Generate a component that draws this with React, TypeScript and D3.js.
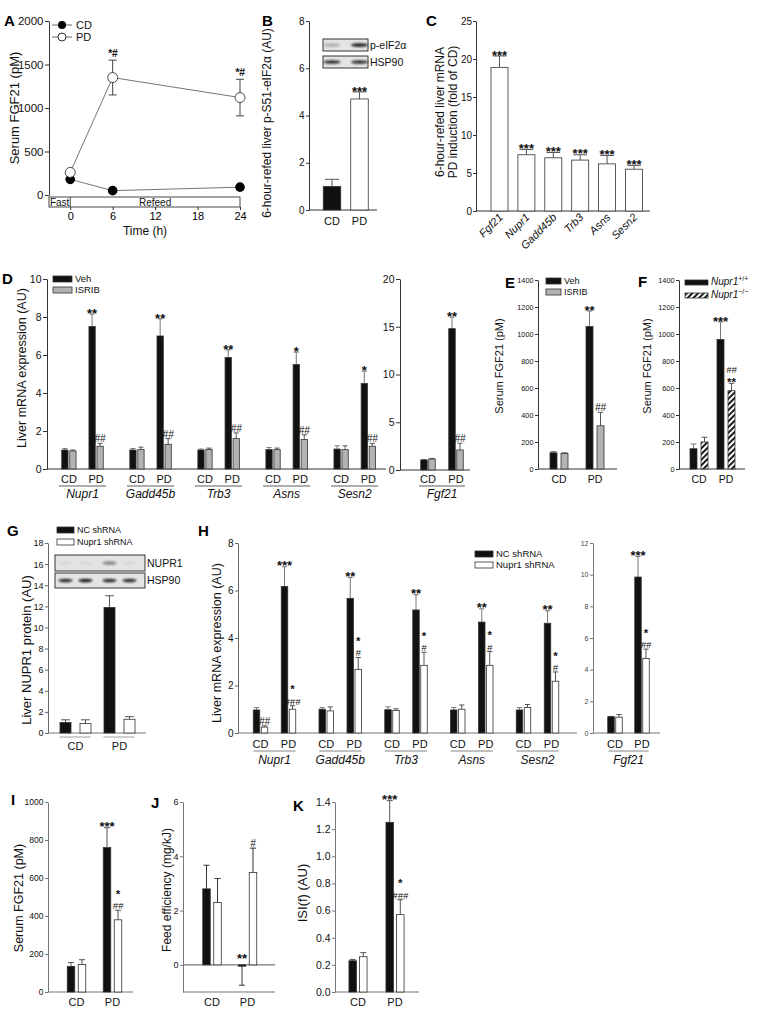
import React, { useEffect, useRef } from 'react';
import * as d3 from 'd3';

const FONT = '"Liberation Sans", Arial, Helvetica, sans-serif';
const W = 765;
const H = 1017;

// A: serum FGF21 time course
const aTime = [0, 6, 24];
const aCD = [180, 50, 90];
const aCDErr = [20, 8, 10];
const aPD = [260, 1350, 1120];
const aPDErr = [15, 200, 210];
const aSig = ['', '*#', '*#'];
const aTicksX = [0, 6, 12, 18, 24];
const aTicksY = [0, 500, 1000, 1500, 2000];

// B: p-eIF2a
const bConds = ['CD', 'PD'];
const bVals = [1.0, 4.7];
const bErr = [0.3, 0.3];
const bSig = ['', '***'];
const bBlotP = [0.25, 0.95];
const bBlotH = [0.85, 0.85];

// C: fold induction
const cGenes = ['Fgf21', 'Nupr1', 'Gadd45b', 'Trb3', 'Asns', 'Sesn2'];
const cVals = [18.9, 7.4, 7.0, 6.7, 6.2, 5.5];
const cErr = [1.5, 0.7, 0.7, 0.7, 1.1, 0.5];

// D: ISRIB
const dGenes = ['Nupr1', 'Gadd45b', 'Trb3', 'Asns', 'Sesn2'];
const dVehCD = [1.0, 1.0, 1.0, 1.02, 1.05];
const dVehCDErr = [0.08, 0.08, 0.05, 0.11, 0.17];
const dIsrCD = [0.95, 1.02, 1.03, 1.02, 1.02];
const dIsrCDErr = [0.05, 0.13, 0.07, 0.08, 0.2];
const dVehPD = [7.5, 7.0, 5.87, 5.5, 4.5];
const dVehPDErr = [0.65, 0.9, 0.4, 0.65, 0.65];
const dIsrPD = [1.2, 1.3, 1.6, 1.55, 1.2];
const dIsrPDErr = [0.15, 0.3, 0.3, 0.25, 0.15];
const dVehSig = ['**', '**', '**', '*', '*'];
const dIsrSig = ['##', '##', '##', '##', '##'];
const dfVeh = [1.05, 14.8];
const dfVehErr = [0.05, 1.2];
const dfIsr = [1.15, 2.1];
const dfIsrErr = [0.06, 0.7];
const dfVehSig = ['', '**'];
const dfIsrSig = ['', '##'];

// E: serum FGF21 with ISRIB
const eVeh = [120, 1055];
const eVehErr = [10, 115];
const eIsr = [115, 320];
const eIsrErr = [5, 100];
const eVehSig = ['', '**'];
const eIsrSig = ['', '##'];

// F: Nupr1 KO
const fWT = [150, 960];
const fWTErr = [35, 130];
const fKO = [200, 580];
const fKOErr = [35, 55];
const fWTSig = ['', '***'];
const fKOSig = ['', '##|**'];

// G: NUPR1 protein
const gNC = [1.0, 11.9];
const gNCErr = [0.25, 1.1];
const gSh = [0.9, 1.3];
const gShErr = [0.35, 0.25];
const gBlotN = [0.05, 0.05, 0.45, 0.05];
const gBlotH = [0.85, 0.95, 0.85, 0.85];

// H: shRNA mRNA
const hGenes = ['Nupr1', 'Gadd45b', 'Trb3', 'Asns', 'Sesn2'];
const hNCCD = [0.97, 1.0, 0.98, 0.97, 0.97];
const hNCCDErr = [0.1, 0.07, 0.12, 0.1, 0.1];
const hShCD = [0.25, 0.93, 0.95, 1.0, 1.07];
const hShCDErr = [0.05, 0.17, 0.07, 0.18, 0.13];
const hNCPD = [6.17, 5.67, 5.18, 4.67, 4.62];
const hNCPDErr = [0.83, 0.88, 0.64, 0.56, 0.53];
const hShPD = [1.0, 2.68, 2.85, 2.85, 2.18];
const hShPDErr = [0.15, 0.5, 0.55, 0.58, 0.39];
const hShCDSig = ['##', '', '', '', ''];
const hNCPDSig = ['***', '**', '**', '**', '**'];
const hShPDSig = ['*|###', '*|#', '*|#', '*|#', '*|#'];
const hfNC = [1.03, 9.85];
const hfNCErr = [0.02, 1.3];
const hfSh = [1.0, 4.7];
const hfShErr = [0.17, 0.6];
const hfNCSig = ['', '***'];
const hfShSig = ['', '*|##'];

// I, J, K
const iNC = [135, 760];
const iNCErr = [20, 105];
const iSh = [145, 380];
const iShErr = [25, 50];
const iNCSig = ['', '***'];
const iShSig = ['', '*|##'];
const jNC = [2.8, -0.05];
const jNCErr = [0.87, 0.7];
const jSh = [2.3, 3.4];
const jShErr = [0.88, 0.9];
const jNCSig = ['', '**'];
const jShSig = ['', '#'];
const kNC = [0.23, 1.25];
const kNCErr = [0.01, 0.16];
const kSh = [0.26, 0.57];
const kShErr = [0.03, 0.11];
const kNCSig = ['', '***'];
const kShSig = ['', '*|###'];

const conds = ['CD', 'PD'];
const BLACK = '#111';
const GRAY = '#b3b3b3';
const WHITE = '#fff';
const fmtInt = d3.format('d');

function YAxis({ scale, x, ticks, size, fmt = fmtInt, color = '#333', textColor = '#111', tick = 4, pad = 1.5 }: any) {
  const ref = useRef<SVGGElement>(null);
  useEffect(() => {
    const ax = d3.axisLeft(scale).tickValues(ticks).tickSizeInner(tick).tickSizeOuter(0).tickPadding(pad).tickFormat(fmt);
    const g = d3.select(ref.current as SVGGElement);
    g.call(ax as any);
    g.attr('font-family', FONT).attr('font-size', size);
    g.selectAll('.domain, .tick line').attr('stroke', color);
    g.selectAll('.tick text').attr('fill', textColor);
  });
  return <g ref={ref} transform={`translate(${x},0)`} />;
}

// significance marks: lines listed top first, separated by '|'
function sigLines(sig: string, top: number) {
  const lines = sig ? sig.split('|') : [];
  const stacked = lines.length > 1;
  const out: any[] = [];
  let boxTop: number | null = null;
  for (let i = lines.length - 1; i >= 0; i--) {
    const t = lines[i];
    const star = t.includes('*');
    const fs = star ? (stacked ? 11.5 : 13) : stacked ? 9.5 : 10;
    let base: number;
    if (boxTop === null) base = star ? top - 4 + 0.59 * fs : top - 1;
    else base = boxTop - 0.212 * fs - 0.3;
    boxTop = base - 0.905 * fs;
    out.unshift({ t, y: base, fs, star });
  }
  return out;
}

function Bar({ cx, w, y, v, e, fill, sig = '', stroke = '#333', err = '#555' }: any) {
  const y0 = y(0);
  const yv = y(v);
  const ye = y(v >= 0 ? v + e : v - e);
  const top = v >= 0 ? Math.min(ye, yv) : y0 - 6;
  const cap = Math.max(2.5, w * 0.4);
  const out = sigLines(sig, top);
  return (
    <g>
      <line x1={cx} x2={cx} y1={yv} y2={ye} stroke={err} strokeWidth={1} />
      <line x1={cx - cap} x2={cx + cap} y1={ye} y2={ye} stroke={err} strokeWidth={1} />
      <rect x={cx - w / 2} y={Math.min(y0, yv)} width={w} height={Math.abs(y0 - yv)} fill={fill} stroke={stroke} strokeWidth={0.8} />
      {out.map((o, i) => (
        <text key={i} x={cx} y={o.y} textAnchor="middle" fontFamily={FONT} fill="#111" fontSize={o.fs}
          fontWeight={o.star ? 'bold' : 'normal'} fontStyle={o.star ? 'normal' : 'italic'}>
          {o.t}
        </text>
      ))}
    </g>
  );
}

const Letter = ({ x, y, t }: any) => (
  <text x={x} y={y} fontFamily={FONT} fontSize={15} fontWeight="bold" fill="#000">{t}</text>
);

const YTitle = ({ x, y, t, size = 12.5 }: any) => (
  <text transform={`translate(${x},${y}) rotate(-90)`} dy="0.35em" textAnchor="middle" fontFamily={FONT} fontSize={size} fill="#111">{t}</text>
);

const Label = ({ x, y, t, size = 11, italic = false, anchor = 'middle' }: any) => (
  <text x={x} y={y} textAnchor={anchor} fontFamily={FONT} fontSize={size} fontStyle={italic ? 'italic' : 'normal'} fill="#111">{t}</text>
);

const HLine = ({ x1, x2, y, color = '#333', sw = 1 }: any) => (
  <line x1={x1} x2={x2} y1={y} y2={y} stroke={color} strokeWidth={sw} />
);

const LegendBox = ({ x, y, w = 19, h = 6, fill, t, size = 9.5, children }: any) => (
  <g>
    <rect x={x} y={y} width={w} height={h} fill={fill} stroke="#333" strokeWidth={0.8} />
    <text x={x + w + 3} y={y + h} fontFamily={FONT} fontSize={size} fill="#111">{children || t}</text>
  </g>
);

function PanelA() {
  const x = d3.scaleLinear().domain([-3, 24]).range([49, 240]);
  const y = d3.scaleLinear().domain([0, 2000]).range([195, 21]);
  const line = d3.line<number>().x((_, i) => x(aTime[i])).y((d) => y(d));
  const xRef = useRef<SVGGElement>(null);
  useEffect(() => {
    const g = d3.select(xRef.current as SVGGElement);
    g.call(d3.axisBottom(x).tickValues(aTicksX).tickSizeInner(3).tickSizeOuter(0).tickPadding(2) as any);
    g.select('.domain').remove();
    g.attr('font-family', FONT).attr('font-size', 11);
    g.selectAll('.tick line').attr('stroke', '#333');
  });
  return (
    <g>
      <Letter x={4} y={26} t="A" />
      <YAxis scale={y} x={49} ticks={aTicksY} size={11.5} />
      <YTitle x={14} y={108} t="Serum FGF21 (pM)" size={13} />
      <rect x={x(-3)} y={197} width={x(24) - x(-3)} height={10} fill="none" stroke="#333" strokeWidth={0.9} />
      <line x1={x(0)} x2={x(0)} y1={197} y2={207} stroke="#333" strokeWidth={0.9} />
      <Label x={(x(-3) + x(0)) / 2} y={205.5} t="Fast" size={10} />
      <Label x={(x(0) + x(24)) / 2} y={205.5} t="Refeed" size={10} />
      <g ref={xRef} transform="translate(0,207)" />
      <Label x={145} y={235} t="Time (h)" size={12} />
      <path d={line(aCD) || ''} fill="none" stroke="#666" strokeWidth={0.9} />
      <path d={line(aPD) || ''} fill="none" stroke="#666" strokeWidth={0.9} />
      {aTime.map((t, i) => (
        <g key={i}>
          {[[aCD[i], aCDErr[i]], [aPD[i], aPDErr[i]]].map(([v, e], j) => (
            <g key={j}>
              <line x1={x(t)} x2={x(t)} y1={y(v - e)} y2={y(v + e)} stroke="#444" />
              <line x1={x(t) - 4} x2={x(t) + 4} y1={y(v + e)} y2={y(v + e)} stroke="#444" />
              <line x1={x(t) - 4} x2={x(t) + 4} y1={y(v - e)} y2={y(v - e)} stroke="#444" />
            </g>
          ))}
          <circle cx={x(t)} cy={y(aCD[i])} r={4.8} fill="#000" />
          <circle cx={x(t)} cy={y(aPD[i])} r={5} fill="#fff" stroke="#333" strokeWidth={0.9} />
          {aSig[i] && <text x={x(t)} y={y(aPD[i] + aPDErr[i]) - 3} textAnchor="middle" fontFamily={FONT} fontSize={10.5} fontStyle="italic" fontWeight="bold" fill="#111">{aSig[i]}</text>}
        </g>
      ))}
      <line x1={52} x2={72} y1={25} y2={25} stroke="#666" />
      <circle cx={62} cy={25} r={4} fill="#000" />
      <Label x={76} y={29} t="CD" size={11} anchor="start" />
      <line x1={52} x2={72} y1={37} y2={37} stroke="#666" />
      <circle cx={62} cy={37} r={4} fill="#fff" stroke="#333" />
      <Label x={76} y={41} t="PD" size={11} anchor="start" />
    </g>
  );
}

function Blot({ x0, x1, y0, h, lanes, vals, bw }: any) {
  return (
    <g>
      <rect x={x0} y={y0} width={x1 - x0} height={h} fill="#e4e4e4" stroke="#222" strokeWidth={0.9} />
      {lanes.map((cx: number, i: number) => (
        <ellipse key={i} cx={cx} cy={y0 + h / 2} rx={bw / 2} ry={1.8} fill="#111" opacity={vals[i]} filter="url(#blur)" />
      ))}
    </g>
  );
}

function PanelB() {
  const y = d3.scaleLinear().domain([0, 8]).range([210, 21]);
  const x = d3.scalePoint().domain(bConds).range([332, 359.5]);
  const lanes = bConds.map((c) => x(c) as number);
  return (
    <g>
      <Letter x={262} y={26} t="B" />
      <YAxis scale={y} x={309} ticks={[0, 2, 4, 6, 8]} size={10} tick={3} />
      <YTitle x={267} y={123} t="6-hour-refed liver p-S51-eIF2α (AU)" size={12} />
      <HLine x1={309} x2={377} y={210} />
      {bConds.map((c, i) => (
        <Bar key={c} cx={x(c)} w={17.5} y={y} v={bVals[i]} e={bErr[i]} fill={i === 0 ? BLACK : WHITE} sig={bSig[i]} />
      ))}
      {bConds.map((c) => <Label key={c} x={x(c)} y={225} t={c} size={11} />)}
      <Blot x0={323} x1={368} y0={39} h={12} lanes={lanes} vals={bBlotP} bw={17} />
      <Blot x0={323} x1={368} y0={56} h={12} lanes={lanes} vals={bBlotH} bw={17} />
      <Label x={370} y={49} t="p-eIF2α" size={10.5} anchor="start" />
      <Label x={370} y={66} t="HSP90" size={10.5} anchor="start" />
    </g>
  );
}

function PanelC() {
  const y = d3.scaleLinear().domain([0, 25]).range([211, 21]);
  const x = d3.scalePoint().domain(cGenes).range([499.5, 634]);
  return (
    <g>
      <Letter x={426} y={26} t="C" />
      <YAxis scale={y} x={476} ticks={[0, 5, 10, 15, 20, 25]} size={10} tick={3} pad={1} />
      <text transform="translate(440,112) rotate(-90)" dy="0.35em" textAnchor="middle" fontFamily={FONT} fontSize={12} fill="#111">6-hour-refed liver mRNA</text>
      <text transform="translate(453,112) rotate(-90)" dy="0.35em" textAnchor="middle" fontFamily={FONT} fontSize={12} fill="#111">PD induction (fold of CD)</text>
      <HLine x1={476} x2={650} y={211} />
      {cGenes.map((g, i) => (
        <Bar key={g} cx={x(g)} w={17} y={y} v={cVals[i]} e={cErr[i]} fill={WHITE} sig="***" />
      ))}
      {cGenes.map((g) => (
        <text key={g} transform={`translate(${(x(g) as number) + 4},218) rotate(-45)`} textAnchor="end" fontFamily={FONT} fontSize={11} fontStyle="italic" fill="#111">{g}</text>
      ))}
    </g>
  );
}

function PanelD() {
  const y = d3.scaleLinear().domain([0, 10]).range([469, 279]);
  const gx = d3.scalePoint().domain(dGenes).range([82.5, 354.7]);
  const half = 13.6;
  const off = 4;
  const bw = 6.3;
  const yf = d3.scaleLinear().domain([0, 20]).range([470, 279]);
  const xf = d3.scalePoint().domain(conds).range([428, 456]);
  const fMid = ((xf('CD') as number) + (xf('PD') as number)) / 2;
  return (
    <g>
      <Letter x={2} y={284} t="D" />
      <YAxis scale={y} x={47} ticks={[0, 2, 4, 6, 8, 10]} size={10.5} />
      <YTitle x={21.5} y={368} t="Liver mRNA expression (AU)" size={12.5} />
      <HLine x1={47} x2={386} y={469} />
      {dGenes.map((g, i) => {
        const c = gx(g) as number;
        return (
          <g key={g}>
            <Bar cx={c - half - off} w={bw} y={y} v={dVehCD[i]} e={dVehCDErr[i]} fill={BLACK} err="#777" />
            <Bar cx={c - half + off} w={bw} y={y} v={dIsrCD[i]} e={dIsrCDErr[i]} fill={GRAY} />
            <Bar cx={c + half - off} w={bw} y={y} v={dVehPD[i]} e={dVehPDErr[i]} fill={BLACK} err="#777" sig={dVehSig[i]} />
            <Bar cx={c + half + off} w={bw} y={y} v={dIsrPD[i]} e={dIsrPDErr[i]} fill={GRAY} sig={dIsrSig[i]} />
            <Label x={c - half} y={483} t="CD" size={11} />
            <Label x={c + half} y={483} t="PD" size={11} />
            <HLine x1={c - half - 10} x2={c + half + 10} y={486} sw={0.8} />
            <Label x={c} y={498} t={g} size={12} italic />
          </g>
        );
      })}
      <LegendBox x={53} y={276} fill={BLACK} t="Veh" />
      <LegendBox x={53} y={287} fill={GRAY} t="ISRIB" />
      <YAxis scale={yf} x={400} ticks={[0, 5, 10, 15, 20]} size={10.5} />
      <HLine x1={400} x2={470} y={470} />
      {conds.map((c, i) => (
        <g key={c}>
          <Bar cx={(xf(c) as number) - 4} w={6.5} y={yf} v={dfVeh[i]} e={dfVehErr[i]} fill={BLACK} err="#777" sig={dfVehSig[i]} />
          <Bar cx={(xf(c) as number) + 4} w={6.5} y={yf} v={dfIsr[i]} e={dfIsrErr[i]} fill={GRAY} sig={dfIsrSig[i]} />
          <Label x={xf(c)} y={483} t={c} size={11} />
        </g>
      ))}
      <HLine x1={fMid - 23} x2={fMid + 23} y={486} sw={0.8} />
      <Label x={fMid} y={498} t="Fgf21" size={12} italic />
    </g>
  );
}

function PanelE() {
  const y = d3.scaleLinear().domain([0, 1400]).range([469, 280]);
  const x = d3.scalePoint().domain(conds).range([559, 595]);
  return (
    <g>
      <Letter x={505} y={288} t="E" />
      <YAxis scale={y} x={538} ticks={d3.range(0, 1401, 200)} size={7.3} tick={3} />
      <YTitle x={499} y={366} t="Serum FGF21 (pM)" size={11} />
      <HLine x1={538} x2={617} y={469} />
      {conds.map((c, i) => (
        <g key={c}>
          <Bar cx={(x(c) as number) - 5.5} w={7} y={y} v={eVeh[i]} e={eVehErr[i]} fill={BLACK} err="#777" sig={eVehSig[i]} />
          <Bar cx={(x(c) as number) + 5.5} w={7} y={y} v={eIsr[i]} e={eIsrErr[i]} fill={GRAY} sig={eIsrSig[i]} />
          <Label x={x(c)} y={483} t={c} size={10.5} />
        </g>
      ))}
      <LegendBox x={546} y={278} w={15} fill={BLACK} t="Veh" size={9} />
      <LegendBox x={546} y={289} w={15} fill={GRAY} t="ISRIB" size={9} />
    </g>
  );
}

function PanelF() {
  const y = d3.scaleLinear().domain([0, 1400]).range([469, 280]);
  const x = d3.scalePoint().domain(conds).range([699, 726]);
  return (
    <g>
      <Letter x={638} y={287} t="F" />
      <YAxis scale={y} x={679} ticks={d3.range(0, 1401, 200)} size={7.3} tick={3} />
      <YTitle x={647} y={366} t="Serum FGF21 (pM)" size={11} />
      <HLine x1={679} x2={745} y={469} />
      {conds.map((c, i) => (
        <g key={c}>
          <Bar cx={(x(c) as number) - 5.5} w={7} y={y} v={fWT[i]} e={fWTErr[i]} fill={BLACK} err="#777" sig={fWTSig[i]} />
          <Bar cx={(x(c) as number) + 5.5} w={7} y={y} v={fKO[i]} e={fKOErr[i]} fill="url(#hatch)" sig={fKOSig[i]} />
          <Label x={x(c)} y={483} t={c} size={10.5} />
        </g>
      ))}
      <LegendBox x={685} y={280} w={23} h={5} fill={BLACK} size={10}>
        <tspan fontStyle="italic">Nupr1</tspan><tspan fontSize={7} dy={-4}>+/+</tspan>
      </LegendBox>
      <LegendBox x={685} y={293} w={23} h={5} fill="url(#hatch)" size={10}>
        <tspan fontStyle="italic">Nupr1</tspan><tspan fontSize={7} dy={-4}>−/−</tspan>
      </LegendBox>
    </g>
  );
}

function PanelG() {
  const y = d3.scaleLinear().domain([0, 18]).range([733, 543]);
  const x = d3.scalePoint().domain(conds).range([75.5, 119.5]);
  const lanes = conds.flatMap((c) => [(x(c) as number) - 10, (x(c) as number) + 10]);
  return (
    <g>
      <Letter x={7} y={536} t="G" />
      <YAxis scale={y} x={48} ticks={d3.range(0, 19, 2)} size={9} color="#666" tick={3} />
      <YTitle x={26} y={650} t="Liver NUPR1 protein (AU)" size={13} />
      <HLine x1={48} x2={146} y={733} color="#777" sw={1.2} />
      {conds.map((c, i) => (
        <g key={c}>
          <Bar cx={(x(c) as number) - 10} w={11} y={y} v={gNC[i]} e={gNCErr[i]} fill={BLACK} err="#555" />
          <Bar cx={(x(c) as number) + 10} w={11} y={y} v={gSh[i]} e={gShErr[i]} fill={WHITE} />
          <HLine x1={(x(c) as number) - 16} x2={(x(c) as number) + 15} y={737} color="#888" sw={0.8} />
          <Label x={x(c)} y={750} t={c} size={11} />
        </g>
      ))}
      <Blot x0={55} x1={145} y0={555} h={16} lanes={lanes} vals={gBlotN} bw={14} />
      <Blot x0={55} x1={145} y0={573} h={15} lanes={lanes} vals={gBlotH} bw={14} />
      <Label x={147} y={567} t="NUPR1" size={10.5} anchor="start" />
      <Label x={147} y={584} t="HSP90" size={10.5} anchor="start" />
      <LegendBox x={57} y={527} w={17} fill={BLACK} t="NC shRNA" size={9} />
      <LegendBox x={57} y={539} w={17} fill={WHITE} t="Nupr1 shRNA" size={9} />
    </g>
  );
}

function PanelH() {
  const y = d3.scaleLinear().domain([0, 8]).range([733, 543]);
  const gx = d3.scalePoint().domain(hGenes).range([274.5, 537.5]);
  const half = 14;
  const off = 4;
  const bw = 6.5;
  const yf = d3.scaleLinear().domain([0, 12]).range([733, 543]);
  const xf = d3.scalePoint().domain(conds).range([615, 642]);
  const fMid = ((xf('CD') as number) + (xf('PD') as number)) / 2;
  return (
    <g>
      <Letter x={198} y={536} t="H" />
      <YAxis scale={y} x={238} ticks={[0, 2, 4, 6, 8]} size={10} color="#666" tick={3} />
      <YTitle x={217} y={643} t="Liver mRNA expression (AU)" size={12.5} />
      <HLine x1={238} x2={577} y={733} color="#777" sw={1.2} />
      {hGenes.map((g, i) => {
        const c = gx(g) as number;
        return (
          <g key={g}>
            <Bar cx={c - half - off} w={bw} y={y} v={hNCCD[i]} e={hNCCDErr[i]} fill={BLACK} err="#777" />
            <Bar cx={c - half + off} w={bw} y={y} v={hShCD[i]} e={hShCDErr[i]} fill={WHITE} sig={hShCDSig[i]} />
            <Bar cx={c + half - off} w={bw} y={y} v={hNCPD[i]} e={hNCPDErr[i]} fill={BLACK} err="#777" sig={hNCPDSig[i]} />
            <Bar cx={c + half + off} w={bw} y={y} v={hShPD[i]} e={hShPDErr[i]} fill={WHITE} sig={hShPDSig[i]} />
            <Label x={c - half} y={748} t="CD" size={11} />
            <Label x={c + half} y={748} t="PD" size={11} />
            <HLine x1={c - half - 7} x2={c + half + 7} y={751} color="#666" sw={0.8} />
            <Label x={c} y={764} t={g} size={12} italic />
          </g>
        );
      })}
      <LegendBox x={475} y={551} w={18} fill={BLACK} t="NC shRNA" size={9.5} />
      <LegendBox x={475} y={562} w={18} fill={WHITE} t="Nupr1 shRNA" size={9.5} />
      <YAxis scale={yf} x={593} ticks={d3.range(0, 13, 2)} size={7} color="#777" textColor="#444" tick={3} />
      <HLine x1={593} x2={660} y={733} color="#777" sw={1.2} />
      {conds.map((c, i) => (
        <g key={c}>
          <Bar cx={(xf(c) as number) - 4} w={6.5} y={yf} v={hfNC[i]} e={hfNCErr[i]} fill={BLACK} err="#777" sig={hfNCSig[i]} />
          <Bar cx={(xf(c) as number) + 4} w={6.5} y={yf} v={hfSh[i]} e={hfShErr[i]} fill={WHITE} sig={hfShSig[i]} />
          <Label x={xf(c)} y={748} t={c} size={11} />
        </g>
      ))}
      <HLine x1={fMid - 20} x2={fMid + 20} y={751} color="#666" sw={0.8} />
      <Label x={fMid} y={764} t="Fgf21" size={12} italic />
    </g>
  );
}

function PanelI() {
  const y = d3.scaleLinear().domain([0, 1000]).range([992, 802]);
  const x = d3.scalePoint().domain(conds).range([76.5, 112.5]);
  return (
    <g>
      <Letter x={11} y={805} t="I" />
      <YAxis scale={y} x={48} ticks={d3.range(0, 1001, 200)} size={8.5} color="#777" tick={3} />
      <YTitle x={19} y={898} t="Serum FGF21 (pM)" size={12.5} />
      <HLine x1={48} x2={133} y={992} color="#777" sw={1.2} />
      {conds.map((c, i) => (
        <g key={c}>
          <Bar cx={(x(c) as number) - 5.5} w={7.5} y={y} v={iNC[i]} e={iNCErr[i]} fill={BLACK} err="#555" sig={iNCSig[i]} />
          <Bar cx={(x(c) as number) + 5.5} w={7.5} y={y} v={iSh[i]} e={iShErr[i]} fill={WHITE} sig={iShSig[i]} />
          <Label x={x(c)} y={1006} t={c} size={11} />
        </g>
      ))}
    </g>
  );
}

function PanelJ() {
  const y = d3.scaleLinear().domain([-1, 6]).range([992, 802]);
  const x = d3.scalePoint().domain(conds).range([212, 247.5]);
  return (
    <g>
      <Letter x={151} y={808} t="J" />
      <YAxis scale={y} x={183} ticks={[0, 2, 4, 6]} size={9} color="#777" tick={3} />
      <YTitle x={167} y={890} t="Feed efficiency (mg/kJ)" size={12} />
      <HLine x1={183} x2={275} y={y(0)} color="#777" sw={1.2} />
      <HLine x1={183} x2={275} y={992} color="#777" sw={1.2} />
      {conds.map((c, i) => (
        <g key={c}>
          <Bar cx={(x(c) as number) - 5.5} w={7.5} y={y} v={jNC[i]} e={jNCErr[i]} fill={BLACK} err="#333" sig={jNCSig[i]} />
          <Bar cx={(x(c) as number) + 5.5} w={7.5} y={y} v={jSh[i]} e={jShErr[i]} fill={WHITE} err="#333" sig={jShSig[i]} />
          <Label x={x(c)} y={1006} t={c} size={11} />
        </g>
      ))}
    </g>
  );
}

function PanelK() {
  const y = d3.scaleLinear().domain([0, 1.4]).range([992, 802]);
  const x = d3.scalePoint().domain(conds).range([358, 395]);
  return (
    <g>
      <Letter x={293} y={811} t="K" />
      <YAxis scale={y} x={335} ticks={d3.range(0, 1.41, 0.2)} size={10.5} fmt={d3.format('.1f')} color="#777" tick={3} />
      <YTitle x={302} y={893} t="ISI(f) (AU)" size={13} />
      <HLine x1={335} x2={419} y={992} color="#777" sw={1.2} />
      {conds.map((c, i) => (
        <g key={c}>
          <Bar cx={(x(c) as number) - 5.3} w={7.5} y={y} v={kNC[i]} e={kNCErr[i]} fill={BLACK} err="#555" sig={kNCSig[i]} />
          <Bar cx={(x(c) as number) + 5.3} w={7.5} y={y} v={kSh[i]} e={kShErr[i]} fill={WHITE} sig={kShSig[i]} />
          <Label x={x(c)} y={1006} t={c} size={11} />
        </g>
      ))}
    </g>
  );
}

export default function App() {
  return (
    <svg width={W} height={H} viewBox={`0 0 ${W} ${H}`} style={{ position: 'absolute', left: 0, top: 0, background: '#fff' }}>
      <defs>
        <pattern id="hatch" patternUnits="userSpaceOnUse" width={4} height={4} patternTransform="rotate(45)">
          <rect width={4} height={4} fill="#fff" />
          <rect width={1.9} height={4} fill="#111" />
        </pattern>
        <filter id="blur" x="-50%" y="-100%" width="200%" height="300%">
          <feGaussianBlur stdDeviation="1" />
        </filter>
      </defs>
      <rect width={W} height={H} fill="#fff" />
      <PanelA />
      <PanelB />
      <PanelC />
      <PanelD />
      <PanelE />
      <PanelF />
      <PanelG />
      <PanelH />
      <PanelI />
      <PanelJ />
      <PanelK />
    </svg>
  );
}
